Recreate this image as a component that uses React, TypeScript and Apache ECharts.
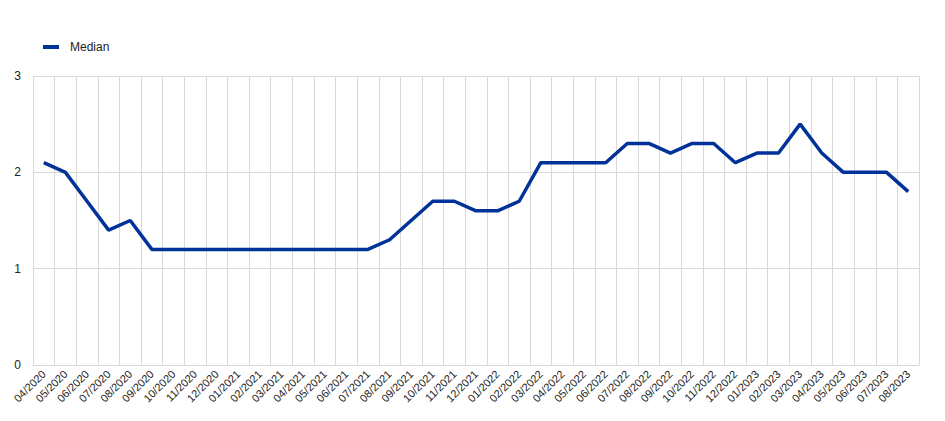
import React, { useEffect, useRef } from "react";
import * as echarts from "echarts";

const categories = [
  "04/2020", "05/2020", "06/2020", "07/2020", "08/2020", "09/2020", "10/2020", "11/2020", "12/2020",
  "01/2021", "02/2021", "03/2021", "04/2021", "05/2021", "06/2021", "07/2021", "08/2021", "09/2021",
  "10/2021", "11/2021", "12/2021", "01/2022", "02/2022", "03/2022", "04/2022", "05/2022", "06/2022",
  "07/2022", "08/2022", "09/2022", "10/2022", "11/2022", "12/2022", "01/2023", "02/2023", "03/2023",
  "04/2023", "05/2023", "06/2023", "07/2023", "08/2023",
];

const median = [
  2.1, 2.0, 1.7, 1.4, 1.5, 1.2, 1.2, 1.2, 1.2,
  1.2, 1.2, 1.2, 1.2, 1.2, 1.2, 1.2, 1.3, 1.5,
  1.7, 1.7, 1.6, 1.6, 1.7, 2.1, 2.1, 2.1, 2.1,
  2.3, 2.3, 2.2, 2.3, 2.3, 2.1, 2.2, 2.2, 2.5,
  2.2, 2.0, 2.0, 2.0, 1.8,
];

const yTicks = [0, 1, 2, 3];

export default function App() {
  const ref = useRef<HTMLDivElement>(null);
  useEffect(() => {
    if (!ref.current) return;
    const chart = echarts.init(ref.current, undefined, { renderer: "svg" });
    const font = "'Liberation Sans', Arial, sans-serif";
    chart.setOption({
      animation: false,
      textStyle: { fontFamily: font },
      legend: {
        left: 38,
        top: 36,
        icon: "rect",
        itemWidth: 16,
        itemHeight: 4,
        itemGap: 10,
        textStyle: { fontSize: 12, color: "#222", fontFamily: font, padding: [0, 0, 0, 6] },
        data: ["Median"],
      },
      grid: { left: 33, right: 26, top: 76, bottom: 56, containLabel: false },
      xAxis: {
        type: "category",
        data: categories,
        boundaryGap: true,
        axisLine: { show: true, lineStyle: { color: "#d9d9d9" } },
        axisTick: { show: false },
        splitLine: { show: true, interval: 0, lineStyle: { color: "#d9d9d9" } },
        axisLabel: {
          interval: 0,
          rotate: 45,
          fontSize: 11,
          color: "#222",
          fontFamily: font,
          margin: 7,
        },
      },
      yAxis: {
        type: "value",
        min: yTicks[0],
        max: yTicks[yTicks.length - 1],
        interval: 1,
        axisLine: { show: false },
        axisTick: { show: false },
        splitLine: { show: true, lineStyle: { color: "#d9d9d9" } },
        axisLabel: { fontSize: 12, color: "#222", fontFamily: font, margin: 12 },
      },
      series: [
        {
          name: "Median",
          type: "line",
          data: median,
          symbol: "none",
          lineStyle: { color: "#003299", width: 3.5 },
          itemStyle: { color: "#003299" },
        },
      ],
    });
    return () => chart.dispose();
  }, []);
  return (
    <div
      ref={ref}
      style={{ position: "absolute", left: 0, top: 0, width: 945, height: 421 }}
    />
  );
}
